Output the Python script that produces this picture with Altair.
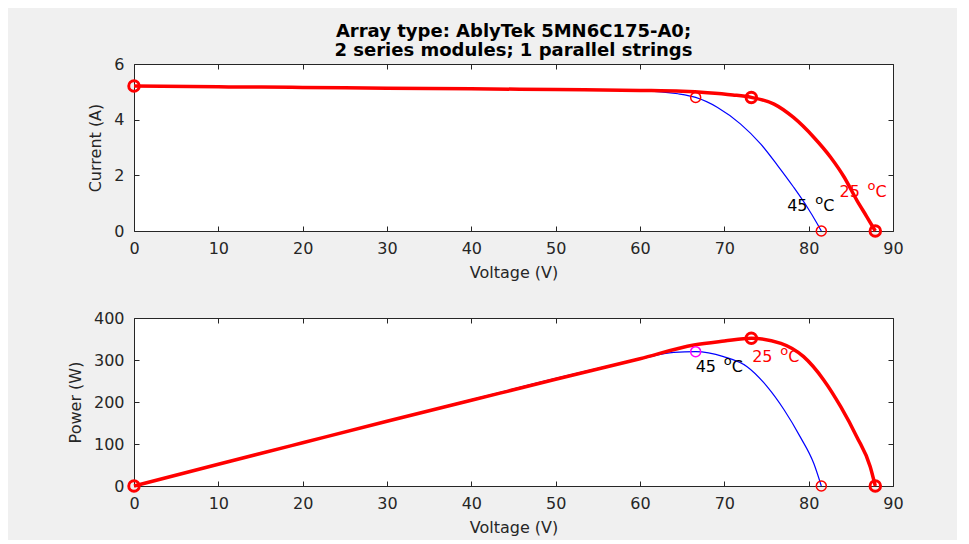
import altair as alt
import pandas as pd

TITLE = ["Array type: AblyTek 5MN6C175-A0;", "2 series modules; 1 parallel strings"]
X_TICKS = [0, 10, 20, 30, 40, 50, 60, 70, 80, 90]
I_TICKS = [0, 2, 4, 6]
P_TICKS = [0, 100, 200, 300, 400]

# I-V curve at 25 C (thick red)
V25_IV = [0, 10, 20, 30, 40, 50, 60, 65, 68, 71, 73.2, 75.9, 78.2, 80.6, 82.6, 84.2, 85.7, 86.9, 87.9]
I25 = [5.21, 5.18, 5.16, 5.13, 5.11, 5.08, 5.05, 5.02, 4.97, 4.89, 4.80, 4.56, 4.08, 3.37, 2.65, 1.94, 1.11, 0.51, 0.0]
# I-V curve at 45 C (thin blue)
V45_IV = [0, 30, 60, 62.5, 64.5, 66.6, 69.2, 71.9, 74.3, 76.3, 78.2, 79.8, 81.0, 81.5]
I45 = [5.22, 5.14, 5.04, 5.00, 4.93, 4.80, 4.44, 3.85, 3.13, 2.36, 1.58, 0.87, 0.27, 0.0]

# P-V curve at 25 C
V25_P = [0, 10, 20, 30, 40, 50, 60, 66.4, 70, 73.2, 76.7, 79.4, 81.8, 83.8, 85.7, 87.3, 87.9]
P25 = [0, 51.8, 103, 154, 204, 254, 303, 335.7, 345, 351.6, 339.7, 307.9, 252, 188.8, 117.4, 46, 0]
# P-V curve at 45 C
V45_P = [0, 30, 60, 64.0, 66.6, 69.9, 72.7, 75.1, 77.1, 79.0, 80.6, 81.5]
P45 = [0, 154, 302, 318, 319.8, 307.9, 284, 236, 181, 117, 54, 0]

# key points: Isc, MPP, Voc
KEY25_V = [0, 73.2, 87.9]
KEY25_I = [5.21, 4.80, 0]
KEY25_P = [0, 351.6, 0]
MPP45_V = [66.6]
MPP45_I = [4.80]
MPP45_P = [319.8]
VOC45_V = [81.5]
VOC45_Y = [0]

LABEL_NUMS = ["25", "45"]
LABEL_COLORS = ["#ff0000", "#000000"]
LAB_IV_V = [83.65, 77.45]
LAB_IV_I = [1.41, 0.91]
LAB_P_V = [73.3, 66.6]
LAB_P_P = [308, 284.5]

AX = "#262626"

xscale = alt.Scale(domain=[0, 90], nice=False, zero=False)


def main_axis(title, values, orient, tpad):
    return alt.Axis(title=title, values=values, orient=orient, domain=False,
                    ticks=True, tickSize=5, offset=-5, tickColor=AX, grid=False,
                    labelFlush=False, labelOverlap=False,
                    labelPadding=10 if orient == "left" else 9, titlePadding=tpad)


def mirror_axis(values, orient):
    return alt.Axis(title=None, values=values, orient=orient, domain=False,
                    labels=False, ticks=True, tickSize=5, offset=-5, tickColor=AX, grid=False)


def panel(v25, y25, v45, y45, keyy, mppy, ymax, yticks, ytitle, mppcolor, labv, laby, h):
    yscale = alt.Scale(domain=[0, ymax], nice=False, zero=False)
    d25 = pd.DataFrame({"V": v25, "Y": y25})
    d45 = pd.DataFrame({"V": v45, "Y": y45})
    blue = alt.Chart(d45).mark_line(color="#0000ff", strokeWidth=1.2, interpolate="monotone").encode(
        x=alt.X("V:Q", scale=xscale, axis=main_axis("Voltage (V)", X_TICKS, "bottom", 8)),
        y=alt.Y("Y:Q", scale=yscale, axis=main_axis(ytitle, yticks, "left", 10)),
    )
    red = alt.Chart(d25).mark_line(color="#ff0000", strokeWidth=3.5, interpolate="monotone").encode(
        x=alt.X("V:Q", scale=xscale, axis=mirror_axis(X_TICKS, "top")),
        y=alt.Y("Y:Q", scale=yscale, axis=mirror_axis(yticks, "right")),
    )
    enc = dict(x=alt.X("V:Q", scale=xscale, axis=None), y=alt.Y("Y:Q", scale=yscale, axis=None))
    k25 = alt.Chart(pd.DataFrame({"V": KEY25_V, "Y": keyy})).mark_point(
        shape="circle", filled=False, color="#ff0000", size=110, strokeWidth=3, opacity=1).encode(**enc)
    m45 = alt.Chart(pd.DataFrame({"V": MPP45_V, "Y": mppy})).mark_point(
        shape="circle", filled=False, color=mppcolor, size=100, strokeWidth=1.5, opacity=1).encode(**enc)
    v45o = alt.Chart(pd.DataFrame({"V": VOC45_V, "Y": VOC45_Y})).mark_point(
        shape="circle", filled=False, color="#ff0000", size=100, strokeWidth=1.5, opacity=1).encode(**enc)
    lab = pd.DataFrame({"V": labv, "Y": laby, "t": LABEL_NUMS, "c": LABEL_COLORS})
    col = alt.Color("c:N", scale=None)
    t_num = alt.Chart(lab).mark_text(align="left", baseline="middle", font="DejaVu Sans", fontSize=16).encode(
        text="t:N", color=col, **enc)
    t_o = alt.Chart(lab).mark_text(align="left", baseline="middle", font="DejaVu Sans", fontSize=13,
                                   dx=28, dy=-6).encode(text=alt.value("o"), color=col, **enc)
    t_c = alt.Chart(lab).mark_text(align="left", baseline="middle", font="DejaVu Sans", fontSize=16,
                                   dx=36).encode(text=alt.value("C"), color=col, **enc)
    return alt.layer(blue, red, k25, m45, v45o, t_num, t_o, t_c).resolve_axis(
        x="independent", y="independent").properties(width=759, height=h)


top = panel(V25_IV, I25, V45_IV, I45, KEY25_I, MPP45_I, 6, I_TICKS, "Current (A)", "#ff0000",
            LAB_IV_V, LAB_IV_I, 167)
bottom = panel(V25_P, P25, V45_P, P45, KEY25_P, MPP45_P, 400, P_TICKS, "Power (W)", "#ff00ff",
               LAB_P_V, LAB_P_P, 168)

chart = alt.vconcat(
    top, bottom, spacing=87, bounds="flush",
    title=alt.Title(TITLE, anchor="middle", frame="group", offset=-4, fontSize=18, lineHeight=19,
                    font="DejaVu Sans", fontWeight="bold", color="#000000"),
).properties(
    padding={"left": 58, "top": 14, "right": 53, "bottom": 4},
).configure(background="#f0f0f0").configure_view(
    fill="white", stroke=AX, strokeWidth=1
).configure_axis(
    labelFont="DejaVu Sans", labelFontSize=16, labelColor=AX,
    titleFont="DejaVu Sans", titleFontSize=16, titleFontWeight="normal", titleColor=AX,
)

chart.save("out.html", embed_options={"renderer": "svg", "actions": False})
